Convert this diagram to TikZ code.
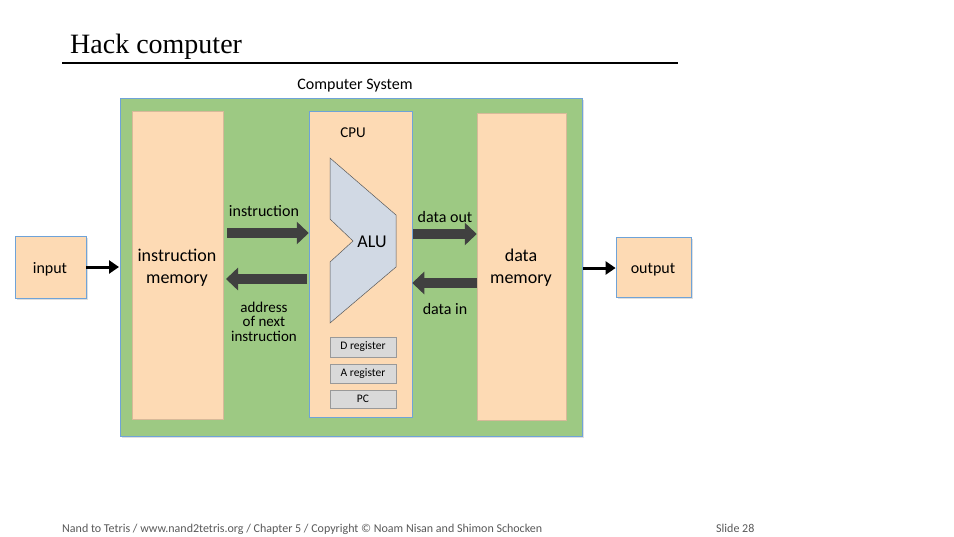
\documentclass[tikz,border=0pt]{standalone}
\usepackage{fontspec}
\setmainfont{Carlito}
\newfontfamily\titlefont{Liberation Serif}
\usetikzlibrary{arrows.meta,shadows}
\definecolor{sysgreen}{HTML}{9DC983}
\definecolor{peach}{HTML}{FDDAB4}
\definecolor{edgeblue}{HTML}{6FA3D8}
\definecolor{alufill}{HTML}{D1D9E4}
\definecolor{regfill}{HTML}{D9D9D9}
\definecolor{bus}{HTML}{404040}
\definecolor{foot}{HTML}{595959}
\begin{document}
\begin{tikzpicture}[x=1pt,y=-1pt,
  lbl/.style={font=\fontsize{16}{17}\selectfont, align=center, inner sep=0pt, yshift=-1.5pt},
  bigl/.style={font=\fontsize{18}{22}\selectfont, align=center, inner sep=0pt, yshift=-1pt},
  peachbox/.style={fill=peach, draw=peach!85!black, line width=0.5pt},
  iobox/.style={fill=peach, draw=edgeblue, line width=0.8pt, drop shadow={opacity=0.25, shadow xshift=1.5pt, shadow yshift=-1.5pt}},
  regbox/.style={fill=regfill, draw=gray!80, line width=0.5pt, drop shadow={opacity=0.3, shadow xshift=1pt, shadow yshift=-1pt}, font=\fontsize{11.5}{12}\selectfont},
  busarrow/.style={draw=bus, line width=10pt, -{Triangle[width=22pt,length=12pt]}},
  ioarrow/.style={draw=black, line width=3pt, -{Triangle[width=13pt,length=10pt]}}
]
\useasboundingbox (0,0) rectangle (954,536);
\fill[white] (0,0) rectangle (954,536);

% title
\node[anchor=base west, inner sep=0pt, font=\titlefont\fontsize{28}{30}\selectfont] (title) at (70,53) {Hack computer};
\draw[line width=1.3pt] (62,63) coordinate (tl) -- (678,63) coordinate (tr);

% system
\node[lbl] (systitle) at (355,84) {Computer System};
\path[fill=sysgreen, draw=edgeblue, line width=0.8pt, drop shadow={opacity=0.25, shadow xshift=1.5pt, shadow yshift=-1.5pt}] (120,98) rectangle (582,436);
\node[peachbox, minimum width=91pt, minimum height=308pt, inner sep=0pt] (im) at (177.5,265) {};
\node[bigl] (imtext) at (177,267) {instruction\\memory};
\node[peachbox, draw=edgeblue, minimum width=103pt, minimum height=306pt, inner sep=0pt] (cpu) at (360.5,264) {};
\node[peachbox, minimum width=89pt, minimum height=307pt, inner sep=0pt] (dm) at (521.5,266.5) {};
\node[bigl] (dmtext) at (521,267) {data\\memory};

% CPU internals
\node[lbl, font=\fontsize{15}{16}\selectfont] (cputext) at (353,131) {CPU};
\draw[fill=alufill, draw=gray!70!black, line width=0.5pt] (330,158) -- (396,215) -- (396,267) -- (330,323) -- (330,262) -- (353,241) -- (330,219) -- cycle;
\node[bigl] (alu) at (372,241) {ALU};
\node[regbox, minimum width=66pt, minimum height=20pt, inner sep=0pt] (dreg) at (363,347) {D register};
\node[regbox, minimum width=66pt, minimum height=19pt, inner sep=0pt] (areg) at (363,373.5) {A register};
\node[regbox, minimum width=66pt, minimum height=18pt, inner sep=0pt] (pc) at (363,399) {PC};

% io
\node[iobox, minimum width=71pt, minimum height=62pt, inner sep=0pt] (in) at (50.5,267) {};
\node[lbl] (intext) at (50,268) {input};
\node[iobox, minimum width=75pt, minimum height=60pt, inner sep=0pt] (out) at (653.5,267) {};
\node[lbl] (outtext) at (653,268) {output};

% bus arrows
\coordinate (a1) at (227,233);
\coordinate (a2) at (307,279);
\coordinate (a2e) at (226,279);
\draw[busarrow] (a1) -- (cpu.west |- a1);
\draw[busarrow] (a2) -- (a2e);
\draw[busarrow] (cpu.east |- 0,234) ++(1,0) coordinate (a3) -- (dm.west |- a3);
\draw[busarrow] (dm.west |- 0,283) coordinate (a4) -- (cpu.east |- a4);

\node[lbl] (linstr) at (264,210) {instruction};
\node[lbl, font=\fontsize{15}{14.5}\selectfont] (laddr) at (264,320) {address\\of next\\instruction};
\node[lbl] (ldout) at (445,215) {data out};
\node[lbl] (ldin) at (445,307) {data in};

% io arrows
\draw[ioarrow] (in.east |- 0,267) coordinate (b1) -- (119,267) coordinate (b2);
\draw[ioarrow] (583,268) coordinate (c1) -- (out.west |- c1);

% footer
\node[anchor=base west, inner sep=0pt, text=foot, font=\fontsize{12}{13}\selectfont] (footer) at (62,532) {Nand to Tetris / www.nand2tetris.org / Chapter 5 / Copyright © Noam Nisan and Shimon Schocken};
\node[anchor=base west, inner sep=0pt, text=foot, font=\fontsize{12}{13}\selectfont] (slide) at (716,532) {Slide 28};
\end{tikzpicture}
\end{document}
